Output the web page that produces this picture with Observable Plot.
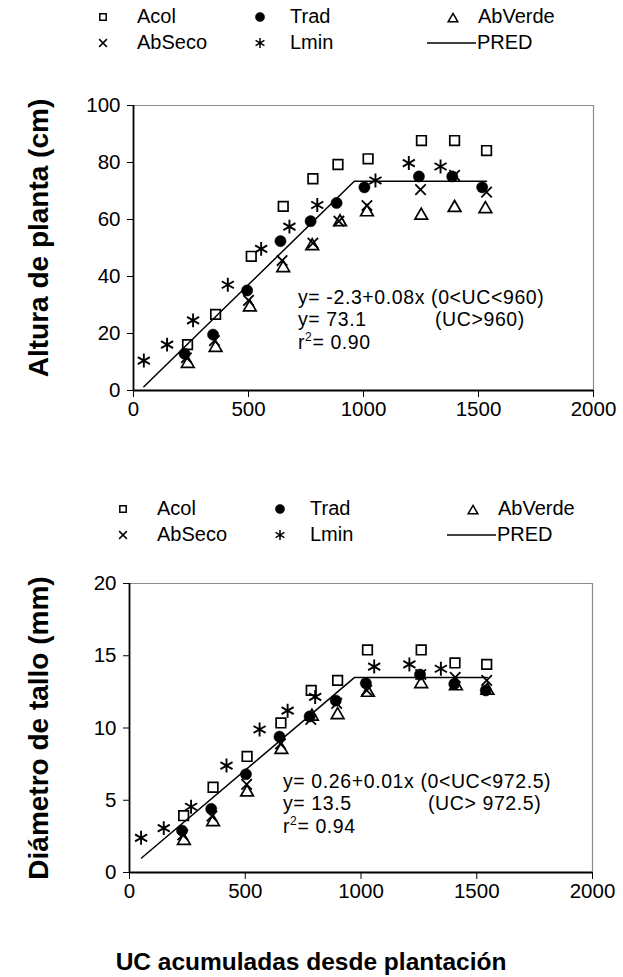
<!DOCTYPE html>
<html>
<head>
<meta charset="utf-8">
<script src="https://cdn.jsdelivr.net/npm/d3@7"></script>
<script src="https://cdn.jsdelivr.net/npm/@observablehq/plot@0.6"></script>
<style>
  html, body { margin: 0; padding: 0; background: #fff; }
  #root { position: relative; width: 623px; height: 977px; overflow: hidden; font-family: "Liberation Sans", Arial, sans-serif; color: #000; }
  .abs { position: absolute; white-space: nowrap; }
  .leg { font-size: 20px; line-height: 20px; }
  .ytitle { font-weight: bold; font-size: 28px; line-height: 28px; transform: translate(-50%, -50%) rotate(-90deg); }
  .xtitle { font-weight: bold; font-size: 24.5px; transform: translate(-50%, -50%); }
  .ann { font-size: 19.5px; letter-spacing: 0.6px; line-height: 19px; }
  .ann sup { font-size: 12px; vertical-align: 8px; line-height: 0; }
</style>
</head>
<body>
<div id="root"></div>
<script>
// ---------- Data ----------
const xTicks = [0, 500, 1000, 1500, 2000];
const xDomain = [0, 2000];
const seriesNames = ["Acol", "Trad", "AbVerde", "AbSeco", "Lmin", "PRED"];

// Panel A: Altura de planta (cm)
const yTicksA = [0, 20, 40, 60, 80, 100];
const xAcolA = [235, 357, 512, 651, 780, 889, 1020, 1252, 1396, 1535];
const yAcolA = [16.1, 26.7, 47.1, 64.6, 74.3, 79.3, 81.3, 87.7, 87.7, 84.2];
const xTradA = [222, 346, 494, 639, 770, 883, 1004, 1241, 1386, 1516];
const yTradA = [12.9, 19.6, 35.1, 52.4, 59.4, 65.8, 71.3, 75.1, 75.1, 71.3];
const xVerdeA = [236, 357, 506, 651, 777, 898, 1015, 1251, 1396, 1530];
const yVerdeA = [9.4, 15.0, 29.2, 43.0, 50.7, 59.1, 62.6, 61.4, 64.1, 63.7];
const xSecoA = [230, 352, 500, 646, 780, 893, 1015, 1248, 1396, 1535];
const ySecoA = [11.5, 17.5, 31.6, 45.6, 51.7, 59.4, 64.9, 70.5, 75.5, 69.6];
const xLminA = [45, 146, 259, 410, 555, 678, 799, 1052, 1197, 1335];
const yLminA = [10.5, 16.1, 24.6, 37.1, 49.7, 57.5, 65.1, 73.7, 79.8, 78.6];
const xPredA = [45, 960, 1535];
const yPredA = [1.3, 73.4, 73.4];

// Panel B: Diámetro de tallo (mm)
const yTicksB = [0, 5, 10, 15, 20];
const xAcolB = [234, 361, 508, 654, 785, 899, 1028, 1260, 1406, 1543];
const yAcolB = [3.93, 5.9, 8.03, 10.35, 12.6, 13.3, 15.4, 15.4, 14.5, 14.4];
const xTradB = [227, 353, 503, 648, 778, 891, 1021, 1255, 1403, 1539];
const yTradB = [2.9, 4.4, 6.8, 9.4, 10.8, 11.9, 13.1, 13.7, 13.05, 12.6];
const xVerdeB = [235, 361, 508, 656, 788, 899, 1030, 1260, 1410, 1546];
const yVerdeB = [2.2, 3.5, 5.55, 8.5, 10.8, 10.9, 12.45, 13.05, 12.9, 12.6];
const xSecoB = [230, 356, 506, 652, 783, 895, 1025, 1258, 1407, 1543];
const ySecoB = [2.6, 3.9, 6.1, 8.9, 10.6, 11.7, 12.6, 13.7, 13.5, 13.3];
const xLminB = [50, 148, 266, 419, 562, 683, 802, 1057, 1209, 1345];
const yLminB = [2.4, 3.07, 4.55, 7.4, 9.9, 11.2, 12.15, 14.25, 14.4, 14.1];
const xPredB = [52, 972.5, 1545];
const yPredB = [1.0, 13.5, 13.5];

// ---------- Styles ----------
const symStyle = {
  Acol:    {symbol: "square",   r: 5.4, fill: "none",  stroke: "black", strokeWidth: 1.7},
  Trad:    {symbol: "circle",   r: 5.6, fill: "black", stroke: "black", strokeWidth: 0.5},
  AbVerde: {symbol: "triangle", r: 4.7, fill: "none",  stroke: "black", strokeWidth: 1.7},
  AbSeco:  {symbol: "times",    r: 4.8, fill: "none",  stroke: "black", strokeWidth: 1.8},
  Lmin:    {symbol: "asterisk", r: 6.6, fill: "none",  stroke: "black", strokeWidth: 1.9}
};

function pts(xs, ys) { return xs.map((x, i) => ({x, y: ys[i]})); }

function panel(o) {
  const series = [
    ["Acol", pts(o.xAcol, o.yAcol)],
    ["AbVerde", pts(o.xVerde, o.yVerde)],
    ["AbSeco", pts(o.xSeco, o.ySeco)],
    ["Lmin", pts(o.xLmin, o.yLmin)],
    ["Trad", pts(o.xTrad, o.yTrad)]
  ];
  return Plot.plot({
    width: 623,
    height: o.height,
    marginLeft: o.ml, marginRight: o.mr, marginTop: o.mt, marginBottom: o.mb,
    style: {fontFamily: "'Liberation Sans', Arial, sans-serif", fontSize: "20.5px", color: "black", background: "transparent", overflow: "visible"},
    x: {domain: xDomain, ticks: xTicks, tickSize: 7, tickPadding: 4, label: null, tickFormat: d => String(d)},
    y: {domain: o.yDomain, ticks: o.yTicks, tickSize: 6, tickPadding: 7, label: null, tickFormat: d => String(d)},
    marks: [
      Plot.ruleY([o.yDomain[1]], {stroke: "#8c8c8c", strokeWidth: 1.2}),
      Plot.ruleX([xDomain[1]], {stroke: "#8c8c8c", strokeWidth: 1.2}),
      Plot.line(pts(o.xPred, o.yPred), {x: "x", y: "y", stroke: "black", strokeWidth: 1.5}),
      ...series.map(([name, data]) => Plot.dot(data, {x: "x", y: "y", ...symStyle[name]})),
      Plot.ruleY([o.yDomain[0]], {stroke: "black", strokeWidth: 1.8}),
      Plot.ruleX([xDomain[0]], {stroke: "black", strokeWidth: 1.8})
    ]
  });
}

const root = document.getElementById("root");
function place(el, left, top) { el.style.position = "absolute"; el.style.left = left + "px"; el.style.top = top + "px"; root.appendChild(el); return el; }
function div(cls, html, left, top) { const d = document.createElement("div"); d.className = "abs " + cls; d.innerHTML = html; return place(d, left, top); }

function legendSymbol(name, cx, cy) {
  const s = symStyle[name];
  const svg = d3.create("svg").attr("width", 20).attr("height", 20).style("overflow", "visible");
  const sizeMap = {square: 3.6, circle: 4.6, triangle: 3.6, times: 3.6, asterisk: 4.8};
  const typeMap = {square: d3.symbolSquare, circle: d3.symbolCircle, triangle: d3.symbolTriangle, times: d3.symbolTimes, asterisk: d3.symbolAsterisk};
  const r = sizeMap[s.symbol];
  svg.append("path")
    .attr("transform", "translate(10,10)")
    .attr("d", d3.symbol(typeMap[s.symbol], Math.PI * r * r)())
    .attr("fill", s.fill).attr("stroke", s.stroke).attr("stroke-width", s.symbol === "circle" ? 0.5 : 1.5);
  return place(svg.node(), cx - 10, cy - 10);
}

function legend(dx, y1, y2) {
  const col = [103 + dx, 260 + dx, 453 + dx];
  const txt = [137 + dx, 290 + dx, 478 + dx];
  legendSymbol("Acol", col[0], y1);   div("leg", seriesNames[0], txt[0], y1 - 11);
  legendSymbol("Trad", col[1], y1);   div("leg", seriesNames[1], txt[1], y1 - 11);
  legendSymbol("AbVerde", col[2], y1 + 2); div("leg", seriesNames[2], txt[2], y1 - 11);
  legendSymbol("AbSeco", col[0], y2); div("leg", seriesNames[3], txt[0], y2 - 11);
  legendSymbol("Lmin", col[1], y2);   div("leg", seriesNames[4], txt[1], y2 - 11);
  const line = d3.create("svg").attr("width", 50).attr("height", 4);
  line.append("line").attr("x1", 0).attr("x2", 49).attr("y1", 2).attr("y2", 2).attr("stroke", "black").attr("stroke-width", 1.3);
  place(line.node(), 427 + dx, y2 - 2);
  div("leg", seriesNames[5], 477 + dx, y2 - 11);
}

// Panel A
place(panel({
  height: 430, ml: 133, mr: 30, mt: 105, mb: 40,
  yDomain: [0, 100], yTicks: yTicksA,
  xAcol: xAcolA, yAcol: yAcolA, xTrad: xTradA, yTrad: yTradA, xVerde: xVerdeA, yVerde: yVerdeA,
  xSeco: xSecoA, ySeco: ySecoA, xLmin: xLminA, yLmin: yLminA, xPred: xPredA, yPred: yPredA
}), 0, 0);

// Panel B
place(panel({
  height: 432, ml: 129, mr: 31, mt: 103, mb: 40,
  yDomain: [0, 20], yTicks: yTicksB,
  xAcol: xAcolB, yAcol: yAcolB, xTrad: xTradB, yTrad: yTradB, xVerde: xVerdeB, yVerde: yVerdeB,
  xSeco: xSecoB, ySeco: ySecoB, xLmin: xLminB, yLmin: yLminB, xPred: xPredB, yPred: yPredB
}), 0, 480);

legend(0, 17, 43);
legend(20, 509, 535);

// Axis titles
div("ytitle", "Altura de planta (cm)", 39, 238);
div("ytitle", "Diámetro de tallo (mm)", 39, 728);
div("xtitle", "UC acumuladas desde plantación", 311, 962);

// Annotations
div("ann", "y= -2.3+0.08x (0&lt;UC&lt;960)", 298, 288);
div("ann", "y= 73.1", 298, 310);
div("ann", "(UC&gt;960)", 435, 310);
div("ann", "r<sup>2</sup>= 0.90", 298, 333);

div("ann", "y= 0.26+0.01x (0&lt;UC&lt;972.5)", 283, 772);
div("ann", "y= 13.5", 283, 794);
div("ann", "(UC&gt; 972.5)", 428, 794);
div("ann", "r<sup>2</sup>= 0.94", 283, 817);
</script>
</body>
</html>
